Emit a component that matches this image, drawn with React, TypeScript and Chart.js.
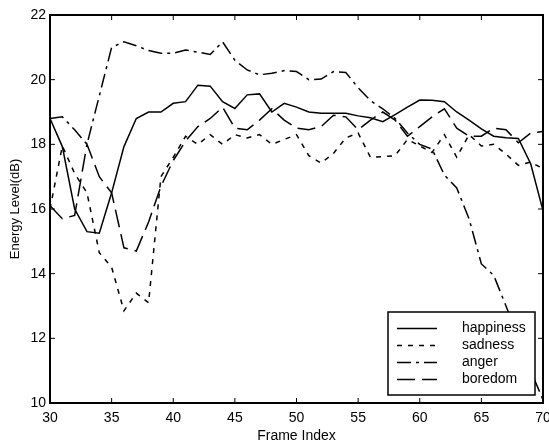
import { useEffect, useRef } from "react";
import { Chart, registerables } from "chart.js";

Chart.register(...registerables);

const frameIndex = [30, 31, 32, 33, 34, 35, 36, 37, 38, 39, 40, 41, 42, 43, 44, 45, 46, 47, 48, 49, 50, 51, 52, 53, 54, 55, 56, 57, 58, 59, 60, 61, 62, 63, 64, 65, 66, 67, 68, 69, 70];

const happiness = [18.8, 17.93, 16.0, 15.3, 15.25, 16.5, 17.93, 18.8, 19.0, 19.0, 19.27, 19.32, 19.83, 19.8, 19.32, 19.11, 19.53, 19.56, 19.0, 19.27, 19.15, 19.0, 18.96, 18.96, 18.96, 18.88, 18.82, 18.7, 18.92, 19.15, 19.37, 19.36, 19.32, 19.0, 18.75, 18.48, 18.25, 18.2, 18.18, 17.4, 15.95];
const sadness = [16.0, 17.95, 17.1, 16.5, 14.65, 14.2, 12.85, 13.4, 13.1, 17.0, 17.6, 18.25, 18.0, 18.3, 18.0, 18.3, 18.2, 18.3, 18.0, 18.15, 18.3, 17.65, 17.42, 17.72, 18.2, 18.35, 17.6, 17.62, 17.65, 18.15, 17.95, 17.75, 18.3, 17.6, 18.3, 17.95, 18.0, 17.7, 17.35, 17.45, 17.25];
const anger = [18.8, 18.85, 18.45, 18.0, 19.5, 21.0, 21.17, 21.05, 20.9, 20.82, 20.82, 20.92, 20.85, 20.78, 21.17, 20.6, 20.3, 20.15, 20.2, 20.28, 20.25, 20.0, 20.02, 20.25, 20.22, 19.75, 19.35, 19.1, 18.8, 18.35, 18.0, 17.85, 17.05, 16.65, 15.7, 14.3, 13.95, 13.0, 12.0, 11.0, 10.1];
const boredom = [16.1, 15.7, 15.8, 18.0, 17.0, 16.5, 14.8, 14.7, 15.6, 16.7, 17.5, 18.1, 18.55, 18.8, 19.15, 18.5, 18.45, 18.75, 19.1, 18.75, 18.5, 18.45, 18.55, 18.9, 18.85, 18.45, 18.75, 19.0, 18.75, 18.25, 18.55, 18.85, 19.1, 18.5, 18.25, 18.25, 18.5, 18.45, 18.05, 18.35, 18.4];

const seriesLabels = ["happiness", "sadness", "anger", "boredom"];
const xTicks = [30, 35, 40, 45, 50, 55, 60, 65, 70];
const yTicks = [10, 12, 14, 16, 18, 20, 22];

const FONT = "'Liberation Sans', Arial, Helvetica, sans-serif";

const dashes: number[][] = [[], [5, 6], [14, 5, 3, 5], [18, 7]];

const framePlugin = {
  id: "matlabFrame",
  afterDatasetsDraw(chart: any) {
    const { ctx, chartArea: a, scales } = chart;
    ctx.save();
    ctx.strokeStyle = "#000";
    ctx.setLineDash([]);
    ctx.lineWidth = 1;
    const seg = (x1: number, y1: number, x2: number, y2: number) => {
      ctx.beginPath();
      ctx.moveTo(x1, y1);
      ctx.lineTo(x2, y2);
      ctx.stroke();
    };
    for (const v of xTicks) {
      const px = scales.x.getPixelForValue(v);
      seg(px, a.bottom, px, a.bottom - 5);
      seg(px, a.top, px, a.top + 5);
    }
    for (const v of yTicks) {
      const py = scales.y.getPixelForValue(v);
      seg(a.left, py, a.left + 5, py);
      seg(a.right, py, a.right - 5, py);
    }
    ctx.lineWidth = 2;
    ctx.strokeRect(a.left, a.top, a.right - a.left, a.bottom - a.top);

    // legend box inside plot area
    const w = 147;
    const h = 83;
    const lx = a.right - 8 - w;
    const ly = a.bottom - 8 - h;
    ctx.fillStyle = "#fff";
    ctx.fillRect(lx, ly, w, h);
    ctx.lineWidth = 1.5;
    ctx.strokeRect(lx, ly, w, h);
    ctx.font = `14px ${FONT}`;
    ctx.textBaseline = "middle";
    ctx.fillStyle = "#000";
    chart.data.datasets.forEach((ds: any, i: number) => {
      const ry = ly + 16.5 + i * 17;
      ctx.lineWidth = 1.5;
      ctx.setLineDash(ds.borderDash || []);
      seg(lx + 9, ry, lx + 49, ry);
      ctx.setLineDash([]);
      ctx.fillText(ds.label, lx + 74, ry);
    });
    ctx.restore();
  },
};

export default function App() {
  const ref = useRef<HTMLCanvasElement>(null);

  useEffect(() => {
    document.body.style.margin = "0";
    const canvas = ref.current;
    if (!canvas) return;
    const seriesValues = [happiness, sadness, anger, boredom];
    const chart = new Chart(canvas, {
      type: "line",
      data: {
        datasets: seriesValues.map((vals, i) => ({
          label: seriesLabels[i],
          data: frameIndex.map((f, j) => ({ x: f, y: vals[j] })),
          borderColor: "#000",
          borderWidth: 1.5,
          borderDash: dashes[i],
          pointRadius: 0,
          tension: 0,
          fill: false,
        })),
      },
      options: {
        animation: false,
        responsive: false,
        devicePixelRatio: 1,
        layout: { padding: { top: 15, right: 6, left: 0, bottom: 0 } },
        plugins: { legend: { display: false }, tooltip: { enabled: false } },
        scales: {
          x: {
            type: "linear",
            min: 30,
            max: 70,
            afterBuildTicks: (s: any) => {
              s.ticks = xTicks.map((v) => ({ value: v }));
            },
            grid: { display: false, drawTicks: false },
            border: { display: false },
            ticks: { padding: 7, color: "#000", maxRotation: 0, autoSkip: false, font: { family: FONT, size: 14 } },
            title: {
              display: true,
              text: "Frame Index",
              color: "#000",
              padding: { top: 0, bottom: 0 },
              font: { family: FONT, size: 14, lineHeight: 1 },
            },
            afterFit: (s: any) => {
              s.height = 40;
              s.paddingLeft = 0;
              s.paddingRight = 0;
            },
          },
          y: {
            type: "linear",
            min: 10,
            max: 22,
            afterBuildTicks: (s: any) => {
              s.ticks = yTicks.map((v) => ({ value: v }));
            },
            grid: { display: false, drawTicks: false },
            border: { display: false },
            ticks: { padding: 4, color: "#000", autoSkip: false, font: { family: FONT, size: 14 } },
            title: {
              display: true,
              text: "Energy Level(dB)",
              color: "#000",
              padding: { top: 8, bottom: 0 },
              font: { family: FONT, size: 13 },
            },
            afterFit: (s: any) => {
              s.width = 50;
              s.paddingTop = 0;
              s.paddingBottom = 0;
            },
          },
        },
      },
      plugins: [framePlugin],
    });
    return () => chart.destroy();
  }, []);

  return (
    <div style={{ width: 549, height: 443 }}>
      <canvas ref={ref} width={549} height={443} style={{ display: "block" }} />
    </div>
  );
}
